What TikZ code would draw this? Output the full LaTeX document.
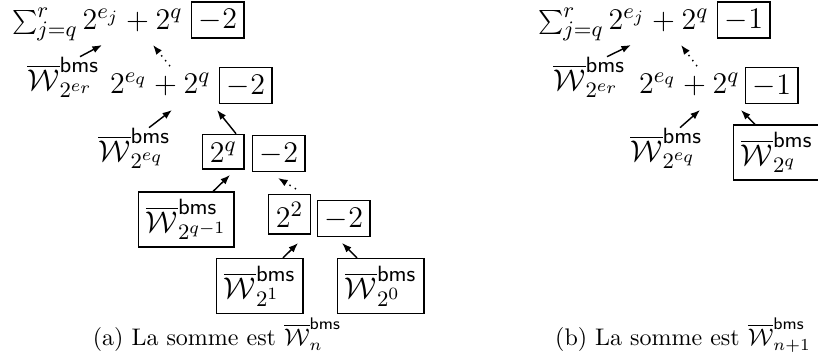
\RequirePackage{fix-cm}
\documentclass[tikz,border=0pt]{standalone}
\usetikzlibrary{arrows.meta,calc}
\DeclareMathSizes{12.5}{12.5}{9.2}{7.2}
\newcommand{\Wb}[1]{\overline{\mathcal{W}}^{\mathsf{bms}}_{#1}}
\newcommand{\dfont}{\fontsize{12.5}{15}\selectfont}
\begin{document}
\begin{tikzpicture}[x=0.41667pt,y=-0.41667pt,
  txt/.style={font=\dfont,inner sep=0pt,anchor=base west},
  txte/.style={font=\dfont,inner sep=0pt,anchor=base east},
  bx/.style={font=\dfont,draw,line width=0.6pt,inner sep=3pt,anchor=base west},
  wbx/.style={font=\dfont,draw,line width=0.6pt,inner sep=3pt,anchor=west},
  arr/.style={-{Latex[length=4pt,width=3pt]},line width=0.6pt},
  darr/.style={arr,dotted},
  captxt/.style={anchor=base,inner sep=0pt}]
\useasboundingbox (0,0) rectangle (818,361);
% ---------- left (a)
\node[txte] (Ltop) at (183,29.5) {$\sum_{j=q}^{r} 2^{e_j} + 2^{q}$};
\node[bx] (Ltopb) at (191,28.5) {$-2$};
\node[txt] (Lwr) at (27,90) {$\Wb{2^{e_r}}$};
\node[txte] (Lrow) at (211,93) {$2^{e_q} + 2^{q}$};
\node[bx] (Lrowb) at (219,94) {$-2$};
\node[txt] (Lweq) at (98,161) {$\Wb{2^{e_q}}$};
\node[bx] (Lq) at (202,162) {$2^{q}$};
\node[bx] (Lqm) at (252,162) {$-2$};
\node[wbx] (Lwq1) at (138,219.5) {$\Wb{2^{q-1}}$};
\node[bx] (Ltwo) at (268,227) {$2^{2}$};
\node[bx] (Ltwom) at (317,227) {$-2$};
\node[wbx] (Lw1) at (216,286) {$\Wb{2^{1}}$};
\node[wbx] (Lw0) at (337,286) {$\Wb{2^{0}}$};
\node[captxt] (Lcap) at (217,345) {(a) La somme est $\Wb{n}$};
% arrow tips
\coordinate (a1) at (102,45);
\coordinate (a2) at (153,45);
\coordinate (a3) at (172,110);
\coordinate (a4) at (217,110);
\coordinate (a5) at (230,175);
\coordinate (a6) at (278,178);
\coordinate (a7) at (298,243);
\coordinate (a8) at (342,243);
\draw[arr] ($(Lwr.north west)+(53,0)$) -- (a1);
\draw[darr] ($(Lrow.north east)+(-41,-6)$) -- (a2);
\draw[arr] ($(Lweq.north west)+(51,0)$) -- (a3);
\draw[arr] ($(Lq.north west)+(34,0)$) -- (a4);
\draw[arr] ($(Lwq1.north west)+(75,0)$) -- (a5);
\draw[darr] ($(Ltwo.north west)+(28,-5)$) -- (a6);
\draw[arr] ($(Lw1.north west)+(67,0)$) -- (a7);
\draw[arr] ($(Lw0.north west)+(20,0)$) -- (a8);
% ---------- right (b)
\node[txte] (Rtop) at (709,29.5) {$\sum_{j=q}^{r} 2^{e_j} + 2^{q}$};
\node[bx] (Rtopb) at (717,28.5) {$-1$};
\node[txt] (Rwr) at (553,90) {$\Wb{2^{e_r}}$};
\node[txte] (Rrow) at (740,93) {$2^{e_q} + 2^{q}$};
\node[bx] (Rrowb) at (745,94) {$-1$};
\node[txt] (Rweq) at (630,161) {$\Wb{2^{e_q}}$};
\node[wbx] (Rwq) at (733,152.5) {$\Wb{2^{q}}$};
\node[captxt] (Rcap) at (683,345) {(b) La somme est $\Wb{n+1}$};
\coordinate (b1) at (631,45);
\coordinate (b2) at (681,45);
\coordinate (b3) at (700,110);
\coordinate (b4) at (741,110);
\draw[arr] ($(Rwr.north west)+(54,0)$) -- (b1);
\draw[darr] ($(Rrow.north east)+(-43,-6)$) -- (b2);
\draw[arr] ($(Rweq.north west)+(50,0)$) -- (b3);
\draw[arr] ($(Rwq.north west)+(22,0)$) -- (b4);
\end{tikzpicture}
\end{document}
